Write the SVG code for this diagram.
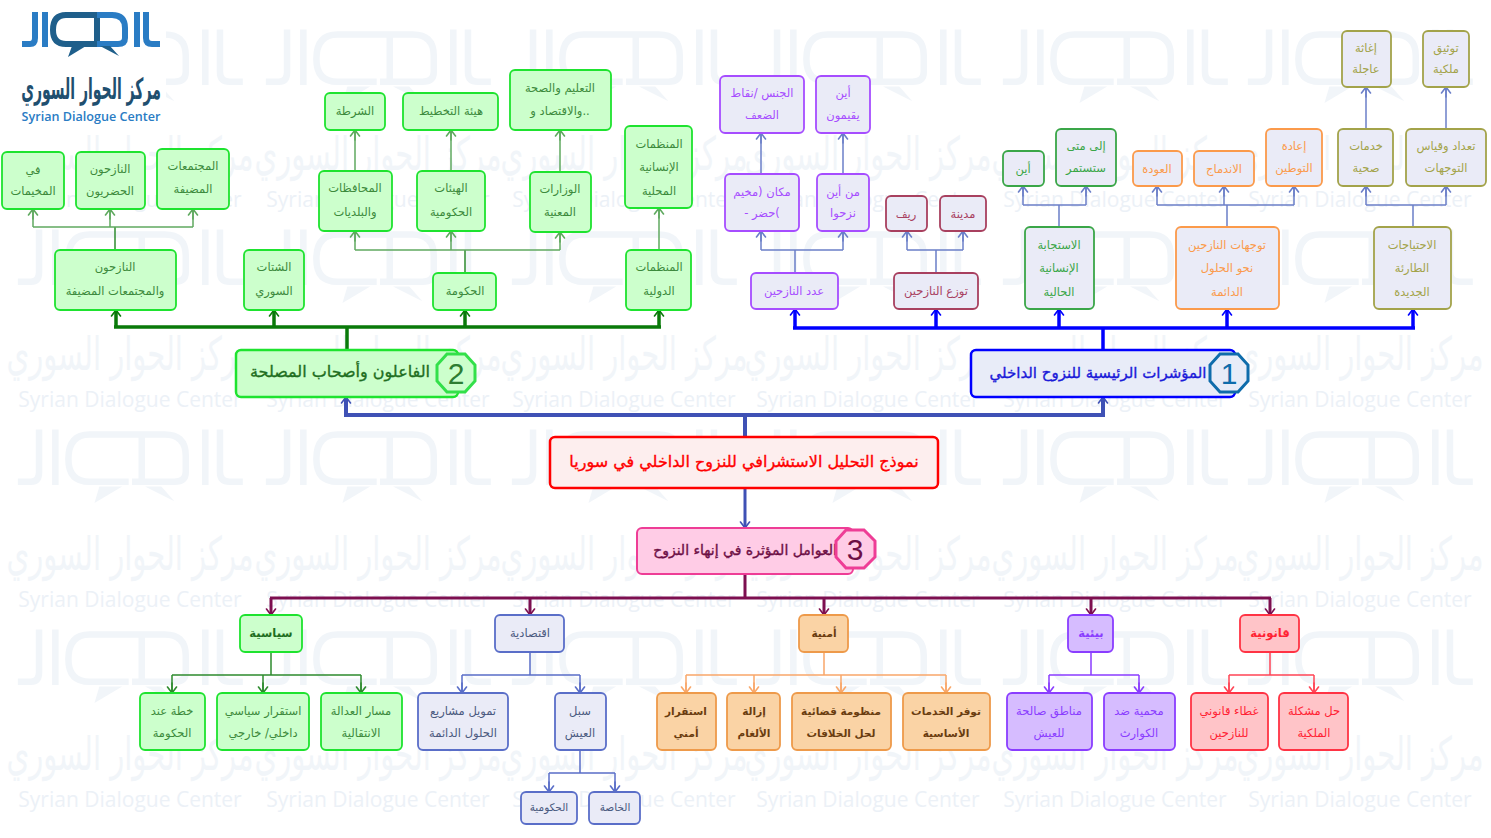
<svg xmlns="http://www.w3.org/2000/svg" width="1491" height="838" viewBox="0 0 1491 838">
<style>
text{font-family:"DejaVu Sans","Noto Sans",sans-serif;text-anchor:middle;font-size:11.5px;direction:rtl}
rect{rx:5px;stroke-width:1.8}
.lat{direction:ltr;font-family:"Open Sans","Liberation Sans",sans-serif}
.g rect{fill:#ccffcc;stroke:#1ee32f}.g text{fill:#3c8a3c}
.p rect{fill:#eaebf7;stroke:#a64dff}.p text{fill:#a64dff}
.m rect{fill:#eaebf7;stroke:#a8405f}.m text{fill:#a8405f}
.h rect{fill:#eaebf7;stroke:#3aa648}.h text{fill:#3aa648}
.o rect{fill:#eaebf7;stroke:#fb9a4b}.o text{fill:#fb9a4b}
.l rect{fill:#eaebf7;stroke:#a3a34a}.l text{fill:#a3a34a}
.e rect{fill:#eaebf7;stroke:#5a6ec8}.e text{fill:#4a5a80}
.a rect{fill:#fad3a5;stroke:#ee9a4a}.a text{fill:#6a3d10;font-weight:bold;font-size:10.5px}
.v rect{fill:#d6bcff;stroke:#8a3dff}.v text{fill:#8a3dff}
.r rect{fill:#ffc4c8;stroke:#ff3344}.r text{fill:#ff2233}
.main text{font-size:15px;stroke-width:.35px}
.num{font-family:"Liberation Sans",sans-serif;direction:ltr;font-size:30px}
.main text.num{font-size:30px;stroke-width:0}
.c{fill:none}
.c1{stroke:#0a7a0a;stroke-width:3.5}.c2{stroke:#0000ff;stroke-width:3.5}.c3{stroke:#3f51b5;stroke-width:4}.c4{stroke:#7d0f50;stroke-width:3}
.c5{stroke:#5fa95f;stroke-width:1.5}.c6{stroke:#6b7fc8;stroke-width:1.5}.c7{stroke:#2e8b2e;stroke-width:1.5}.c8{stroke:#5a6ec8;stroke-width:1.5}.c9{stroke:#f9a76a;stroke-width:1.5}.c10{stroke:#8a3dff;stroke-width:1.5}.c11{stroke:#ff4455;stroke-width:1.5}
.mk{fill:none;stroke-width:1.6;stroke-linecap:round}
.wm{fill:#f1f5f9}.wt{fill:#ecf1f7}
</style>
<defs>
<marker id="a1" markerUnits="userSpaceOnUse" markerWidth="12" markerHeight="12" refX="11" refY="6" orient="auto" viewBox="0 0 12 12"><path d="M5 1.5L11 6L5 10.5M1 6H11" class="mk" stroke="#0a7a0a"/></marker>
<marker id="a2" markerUnits="userSpaceOnUse" markerWidth="12" markerHeight="12" refX="11" refY="6" orient="auto" viewBox="0 0 12 12"><path d="M5 1.5L11 6L5 10.5M1 6H11" class="mk" stroke="#0000ff"/></marker>
<marker id="a3" markerUnits="userSpaceOnUse" markerWidth="12" markerHeight="12" refX="11" refY="6" orient="auto" viewBox="0 0 12 12"><path d="M5 1.5L11 6L5 10.5M1 6H11" class="mk" stroke="#3f51b5"/></marker>
<marker id="a4" markerUnits="userSpaceOnUse" markerWidth="12" markerHeight="12" refX="11" refY="6" orient="auto" viewBox="0 0 12 12"><path d="M5 1.5L11 6L5 10.5M1 6H11" class="mk" stroke="#7d0f50"/></marker>
<marker id="a5" markerUnits="userSpaceOnUse" markerWidth="12" markerHeight="12" refX="11" refY="6" orient="auto" viewBox="0 0 12 12"><path d="M5 1.5L11 6L5 10.5M1 6H11" class="mk" stroke="#5fa95f"/></marker>
<marker id="a6" markerUnits="userSpaceOnUse" markerWidth="12" markerHeight="12" refX="11" refY="6" orient="auto" viewBox="0 0 12 12"><path d="M5 1.5L11 6L5 10.5M1 6H11" class="mk" stroke="#6b7fc8"/></marker>
<marker id="a7" markerUnits="userSpaceOnUse" markerWidth="12" markerHeight="12" refX="11" refY="6" orient="auto" viewBox="0 0 12 12"><path d="M5 1.5L11 6L5 10.5M1 6H11" class="mk" stroke="#2e8b2e"/></marker>
<marker id="a8" markerUnits="userSpaceOnUse" markerWidth="12" markerHeight="12" refX="11" refY="6" orient="auto" viewBox="0 0 12 12"><path d="M5 1.5L11 6L5 10.5M1 6H11" class="mk" stroke="#5a6ec8"/></marker>
<marker id="a9" markerUnits="userSpaceOnUse" markerWidth="12" markerHeight="12" refX="11" refY="6" orient="auto" viewBox="0 0 12 12"><path d="M5 1.5L11 6L5 10.5M1 6H11" class="mk" stroke="#f9a76a"/></marker>
<marker id="a10" markerUnits="userSpaceOnUse" markerWidth="12" markerHeight="12" refX="11" refY="6" orient="auto" viewBox="0 0 12 12"><path d="M5 1.5L11 6L5 10.5M1 6H11" class="mk" stroke="#8a3dff"/></marker>
<marker id="a11" markerUnits="userSpaceOnUse" markerWidth="12" markerHeight="12" refX="11" refY="6" orient="auto" viewBox="0 0 12 12"><path d="M5 1.5L11 6L5 10.5M1 6H11" class="mk" stroke="#ff4455"/></marker>
<g id="mark" fill="none">
<path d="M22 44H30Q35 44 35 38V12M45 12V46M90 44H66Q53 44 53 30Q53 15 66 15H98V44M92 15H112Q125 15 125 28V38Q125 44 118 44H92M137 12V46M146 12V38Q146 44 152 44H160"/>
<path d="M72 47L69 57L86 47ZM100 47L118 56L110 47Z" fill="#f1f5f9" stroke="none"/>
</g>
<g id="tile">
<use href="#mark" transform="translate(-18 10) scale(1.63)" stroke-width="4" stroke="#f1f5f9"/>
<text class="wm" transform="translate(130 170) scale(1 1.6)" style="font-size:29px">مركز الحوار السوري</text>
<text class="wt lat" x="130" y="207" style="font-size:21px">Syrian Dialogue Center</text>
</g>
</defs>
<rect width="1491" height="838" style="fill:#fff;stroke:none;rx:0"/>
<g id="watermark">
<use href="#tile" x="0" y="0"/><use href="#tile" x="248" y="0"/><use href="#tile" x="494" y="0"/><use href="#tile" x="738" y="0"/><use href="#tile" x="985" y="0"/><use href="#tile" x="1230" y="0"/>
<use href="#tile" x="0" y="200"/><use href="#tile" x="248" y="200"/><use href="#tile" x="494" y="200"/><use href="#tile" x="738" y="200"/><use href="#tile" x="985" y="200"/><use href="#tile" x="1230" y="200"/>
<use href="#tile" x="0" y="400"/><use href="#tile" x="248" y="400"/><use href="#tile" x="494" y="400"/><use href="#tile" x="738" y="400"/><use href="#tile" x="985" y="400"/><use href="#tile" x="1230" y="400"/>
<use href="#tile" x="0" y="600"/><use href="#tile" x="248" y="600"/><use href="#tile" x="494" y="600"/><use href="#tile" x="738" y="600"/><use href="#tile" x="985" y="600"/><use href="#tile" x="1230" y="600"/>
</g>
<g id="logo">
<rect x="14" y="6" width="152" height="122" style="fill:#fff;stroke:none"/>
<g fill="none" stroke-width="6">
<path stroke="#2a7cc4" d="M22 44H30Q35 44 35 38V12M45 12V47"/>
<path stroke="#1f5f8b" d="M97 44H66Q53 44 53 30Q53 15 66 15H97V44"/>
<path stroke="#2a7cc4" d="M97 15H112Q125 15 125 28V38Q125 44 118 44H97M137 12V47M146 12V38Q146 44 152 44H160"/>
</g>
<path fill="#1f5f8b" d="M72 46L68 57L86 46ZM100 46L119 56L110 46Z"/>
<text transform="translate(91 99) scale(1 2.1)" style="font-size:14px;font-weight:bold;fill:#1f4f6f">مركز الحوار السوري</text>
<text class="lat" x="91" y="121" style="font-size:12.6px;font-weight:600;fill:#2a7cc4">Syrian Dialogue Center</text>
</g>
<g id="connectors" class="c">
<path class="c3" d="M745 437V415M344 415H1105"/>
<path class="c3" d="M346 415V397" marker-end="url(#a3)"/><path class="c3" d="M1103 415V397" marker-end="url(#a3)"/>
<path style="stroke:#3f51b5;stroke-width:3" d="M745 488V528" marker-end="url(#a3)"/>
<path class="c1" d="M347 350V327M114 327H661"/>
<path class="c1" d="M116 327V310" marker-end="url(#a1)"/><path class="c1" d="M274 327V310" marker-end="url(#a1)"/><path class="c1" d="M465 327V310" marker-end="url(#a1)"/><path class="c1" d="M659 327V310" marker-end="url(#a1)"/>
<path class="c2" d="M1103 350V328M793 328H1415"/>
<path class="c2" d="M795 328V309" marker-end="url(#a2)"/><path class="c2" d="M936 328V309" marker-end="url(#a2)"/><path class="c2" d="M1059 328V309" marker-end="url(#a2)"/><path class="c2" d="M1227 328V309" marker-end="url(#a2)"/><path class="c2" d="M1413 328V309" marker-end="url(#a2)"/>
<path class="c4" d="M745 574V598M270 598H1271"/>
<path class="c4" d="M271 598V615" marker-end="url(#a4)"/><path class="c4" d="M530 598V615" marker-end="url(#a4)"/><path class="c4" d="M824 598V615" marker-end="url(#a4)"/><path class="c4" d="M1091 598V615" marker-end="url(#a4)"/><path class="c4" d="M1270 598V615" marker-end="url(#a4)"/>
<path class="c7" d="M115 250V227"/><path class="c5" d="M33 227H193"/>
<path class="c5" d="M33 227V209" marker-end="url(#a5)"/><path class="c5" d="M110 227V209" marker-end="url(#a5)"/><path class="c5" d="M193 227V209" marker-end="url(#a5)"/>
<path class="c7" d="M465 273V250"/><path class="c5" d="M355 250H560"/>
<path class="c5" d="M355 250V231" marker-end="url(#a5)"/><path class="c5" d="M451 250V231" marker-end="url(#a5)"/><path class="c5" d="M560 250V232" marker-end="url(#a5)"/>
<path class="c5" d="M355 171V130" marker-end="url(#a5)"/><path class="c5" d="M451 171V130" marker-end="url(#a5)"/><path class="c5" d="M560 172V130" marker-end="url(#a5)"/><path class="c5" d="M659 250V208" marker-end="url(#a5)"/>
<path class="c6" d="M795 273V250M761 250H843"/>
<path class="c6" d="M761 250V231" marker-end="url(#a6)"/><path class="c6" d="M843 250V231" marker-end="url(#a6)"/><path class="c6" d="M761 174V133" marker-end="url(#a6)"/><path class="c6" d="M843 174V133" marker-end="url(#a6)"/>
<path class="c6" d="M936 273V250M907 250H963"/><path class="c6" d="M907 250V231" marker-end="url(#a6)"/><path class="c6" d="M963 250V231" marker-end="url(#a6)"/>
<path class="c6" d="M1059 227V205M1023 205H1086"/><path class="c6" d="M1023 205V186" marker-end="url(#a6)"/><path class="c6" d="M1086 205V186" marker-end="url(#a6)"/>
<path class="c6" d="M1227 227V205M1157 205H1294"/><path class="c6" d="M1157 205V186" marker-end="url(#a6)"/><path class="c6" d="M1224 205V186" marker-end="url(#a6)"/><path class="c6" d="M1294 205V186" marker-end="url(#a6)"/>
<path class="c6" d="M1413 227V205M1366 205H1446"/><path class="c6" d="M1366 205V186" marker-end="url(#a6)"/><path class="c6" d="M1446 205V186" marker-end="url(#a6)"/><path class="c6" d="M1366 129V87" marker-end="url(#a6)"/><path class="c6" d="M1446 129V87" marker-end="url(#a6)"/>
<path class="c7" d="M271 652V675M172 675H361"/><path class="c7" d="M172 675V693" marker-end="url(#a7)"/><path class="c7" d="M263 675V693" marker-end="url(#a7)"/><path class="c7" d="M361 675V693" marker-end="url(#a7)"/>
<path class="c8" d="M530 652V675M462 675H580"/><path class="c8" d="M462 675V693" marker-end="url(#a8)"/><path class="c8" d="M580 675V693" marker-end="url(#a8)"/>
<path class="c8" d="M580 750V773M549 773H615"/><path class="c8" d="M549 773V792" marker-end="url(#a8)"/><path class="c8" d="M615 773V792" marker-end="url(#a8)"/>
<path class="c9" d="M824 652V675M686 675H946"/><path class="c9" d="M686 675V693" marker-end="url(#a9)"/><path class="c9" d="M754 675V693" marker-end="url(#a9)"/><path class="c9" d="M841 675V693" marker-end="url(#a9)"/><path class="c9" d="M946 675V693" marker-end="url(#a9)"/>
<path class="c10" d="M1091 652V675M1049 675H1139"/><path class="c10" d="M1049 675V693" marker-end="url(#a10)"/><path class="c10" d="M1139 675V693" marker-end="url(#a10)"/>
<path class="c11" d="M1270 652V675M1229 675H1314"/><path class="c11" d="M1229 675V693" marker-end="url(#a11)"/><path class="c11" d="M1314 675V693" marker-end="url(#a11)"/>
</g>
<g id="nodes">
<g id="n-camps" class="g"><rect x="2" y="152" width="62" height="57"/><text x="33" y="174">في</text><text x="33" y="195">المخيمات</text></g>
<g id="n-urban" class="g"><rect x="76" y="152" width="69" height="57"/><text x="110" y="173">النازحون</text><text x="110" y="195">الحضريون</text></g>
<g id="n-host" class="g"><rect x="157" y="149" width="72" height="60"/><text x="193" y="170">المجتمعات</text><text x="193" y="193">المضيفة</text></g>
<g id="n-police" class="g"><rect x="325" y="93" width="60" height="37"/><text x="355" y="115">الشرطة</text></g>
<g id="n-planning" class="g"><rect x="403" y="93" width="95" height="37"/><text x="451" y="115">هيئة التخطيط</text></g>
<g id="n-govs" class="g"><rect x="319" y="171" width="73" height="60"/><text x="355" y="192">المحافظات</text><text x="355" y="216">والبلديات</text></g>
<g id="n-govbodies" class="g"><rect x="417" y="171" width="68" height="60"/><text x="451" y="192">الهيئات</text><text x="451" y="216">الحكومية</text></g>
<g id="n-idphost" class="g"><rect x="55" y="250" width="121" height="60"/><text x="115" y="271">النازحون</text><text x="115" y="295">والمجتمعات المضيفة</text></g>
<g id="n-diaspora" class="g"><rect x="244" y="250" width="60" height="60"/><text x="274" y="271">الشتات</text><text x="274" y="295">السوري</text></g>
<g id="n-gov" class="g"><rect x="433" y="273" width="63" height="37"/><text x="465" y="295">الحكومة</text></g>
<g id="n-edu" class="g"><rect x="510" y="70" width="101" height="60"/><text x="560" y="92">التعليم والصحة</text><text x="560" y="115">..والاقتصاد و</text></g>
<g id="n-min" class="g"><rect x="530" y="172" width="61" height="60"/><text x="560" y="193">الوزارات</text><text x="560" y="216">المعنية</text></g>
<g id="n-localorg" class="g"><rect x="625" y="126" width="67" height="82"/><text x="659" y="148">المنظمات</text><text x="659" y="171">الإنسانية</text><text x="659" y="195">المحلية</text></g>
<g id="n-intl" class="g"><rect x="626" y="250" width="65" height="60"/><text x="659" y="271">المنظمات</text><text x="659" y="295">الدولية</text></g>
<g id="n-gender" class="p"><rect x="720" y="76" width="84" height="57"/><text x="762" y="97">الجنس /نقاط</text><text x="762" y="119">الضعف</text></g>
<g id="n-where" class="p"><rect x="816" y="76" width="54" height="57"/><text x="843" y="97">أين</text><text x="843" y="119">يقيمون</text></g>
<g id="n-place" class="p"><rect x="725" y="174" width="74" height="57"/><text x="762" y="196">مكان (مخيم</text><text x="762" y="217">)حضر -</text></g>
<g id="n-from" class="p"><rect x="817" y="174" width="52" height="57"/><text x="843" y="196">من أين</text><text x="843" y="217">نزحوا</text></g>
<g id="n-count" class="p"><rect x="751" y="273" width="87" height="36"/><text x="794" y="295">عدد النازحين</text></g>
<g id="n-rural" class="m"><rect x="886" y="196" width="41" height="35"/><text x="906" y="218">ريف</text></g>
<g id="n-city" class="m"><rect x="940" y="196" width="46" height="35"/><text x="963" y="218">مدينة</text></g>
<g id="n-dist" class="m"><rect x="894" y="273" width="84" height="36"/><text x="936" y="295">توزع النازحين</text></g>
<g id="n-ain" class="h"><rect x="1003" y="151" width="41" height="35"/><text x="1023" y="173">أين</text></g>
<g id="n-until" class="h"><rect x="1056" y="129" width="60" height="57"/><text x="1086" y="150">إلى متى</text><text x="1086" y="172">ستستمر</text></g>
<g id="n-resp" class="h"><rect x="1025" y="227" width="69" height="82"/><text x="1059" y="249">الاستجابة</text><text x="1059" y="272">الإنسانية</text><text x="1059" y="296">الحالية</text></g>
<g id="n-return" class="o"><rect x="1133" y="151" width="49" height="35"/><text x="1157" y="173">العودة</text></g>
<g id="n-integ" class="o"><rect x="1194" y="151" width="60" height="35"/><text x="1224" y="173">الاندماج</text></g>
<g id="n-resettle" class="o"><rect x="1266" y="129" width="56" height="57"/><text x="1294" y="150">إعادة</text><text x="1294" y="172">التوطين</text></g>
<g id="n-trends" class="o"><rect x="1176" y="227" width="103" height="82"/><text x="1227" y="249">توجهات النازحين</text><text x="1227" y="272">نحو الحلول</text><text x="1227" y="296">الدائمة</text></g>
<g id="n-relief" class="l"><rect x="1342" y="31" width="49" height="56"/><text x="1366" y="52">إغاثة</text><text x="1366" y="73">عاجلة</text></g>
<g id="n-deed" class="l"><rect x="1423" y="31" width="46" height="56"/><text x="1446" y="52">توثيق</text><text x="1446" y="73">ملكية</text></g>
<g id="n-health" class="l"><rect x="1338" y="129" width="55" height="57"/><text x="1366" y="150">خدمات</text><text x="1366" y="172">صحية</text></g>
<g id="n-census" class="l"><rect x="1406" y="129" width="80" height="57"/><text x="1446" y="150">تعداد وقياس</text><text x="1446" y="172">التوجهات</text></g>
<g id="n-needs" class="l"><rect x="1374" y="227" width="77" height="82"/><text x="1412" y="249">الاحتياجات</text><text x="1412" y="272">الطارئة</text><text x="1412" y="296">الجديدة</text></g>
<g id="n-1" class="main"><rect x="971" y="350" width="264" height="47" style="fill:#e8ecf8;stroke:#0000ff;stroke-width:2.5"/><text x="1098" y="378" style="fill:#1a1ad8;stroke:#1a1ad8">المؤشرات الرئيسية للنزوح الداخلي</text>
<polygon points="1220,354 1238,354 1248,365 1248,381 1238,392 1220,392 1210,381 1210,365" style="fill:#e8ecf8;stroke:#0f6cab;stroke-width:3"/><text class="num" x="1229" y="384" style="fill:#0f6cab">1</text></g>
<g id="n-2" class="main"><rect x="236" y="350" width="222" height="47" style="fill:#ccffcc;stroke:#1ee32f;stroke-width:2.5"/><text x="340" y="377" style="fill:#1f6e1f;stroke:#1f6e1f;font-size:16px">الفاعلون وأصحاب المصلحة</text>
<polygon points="447,354 465,354 475,365 475,381 465,392 447,392 437,381 437,365" style="fill:#ccffcc;stroke:#33e04a;stroke-width:3"/><text class="num" x="456" y="384" style="fill:#2e7d32">2</text></g>
<g id="n-root" class="main"><rect x="550" y="437" width="388" height="51" style="fill:#fdeeee;stroke:#ff0000;stroke-width:2.5"/><text x="744" y="467" style="fill:#ff0000;stroke:#ff0000;font-size:16px">نموذج التحليل الاستشرافي للنزوح الداخلي في سوريا</text></g>
<g id="n-3" class="main"><rect x="637" y="528" width="216" height="46" style="fill:#ffcce6;stroke:#ee3d96;stroke-width:2"/><text x="745" y="555" style="fill:#6d0f45;stroke:#6d0f45;font-size:14px">العوامل المؤثرة في إنهاء النزوح</text>
<polygon points="846,530 864,530 875,541 875,557 864,568 846,568 836,557 836,541" style="fill:#ffcce6;stroke:#ee3d96;stroke-width:3"/><text class="num" x="855" y="560" style="fill:#6d0f45">3</text></g>
<g id="n-pol" class="g"><rect x="240" y="615" width="62" height="37"/><text x="271" y="637" style="font-weight:bold;fill:#1f6e1f">سياسية</text></g>
<g id="n-plan" class="g"><rect x="140" y="693" width="65" height="57"/><text x="172" y="715">خطة عند</text><text x="172" y="737">الحكومة</text></g>
<g id="n-stab" class="g"><rect x="217" y="693" width="92" height="57"/><text x="263" y="715">استقرار سياسي</text><text x="263" y="737">داخلي/ خارجي</text></g>
<g id="n-just" class="g"><rect x="321" y="693" width="81" height="57"/><text x="361" y="715">مسار العدالة</text><text x="361" y="737">الانتقالية</text></g>
<g id="n-eco" class="e"><rect x="495" y="615" width="69" height="37"/><text x="530" y="637">اقتصادية</text></g>
<g id="n-fund" class="e"><rect x="418" y="693" width="90" height="57"/><text x="463" y="715">تمويل مشاريع</text><text x="463" y="737">الحلول الدائمة</text></g>
<g id="n-live" class="e"><rect x="555" y="693" width="51" height="57"/><text x="580" y="715">سبل</text><text x="580" y="737">العيش</text></g>
<g id="n-pub" class="e"><rect x="521" y="792" width="56" height="32"/><text x="549" y="811" style="font-size:10.5px">الحكومية</text></g>
<g id="n-priv" class="e"><rect x="589" y="792" width="51" height="32"/><text x="615" y="811" style="font-size:10.5px">الخاصة</text></g>
<g id="n-sec" class="a"><rect x="799" y="615" width="49" height="37"/><text x="824" y="637">أمنية</text></g>
<g id="n-secst" class="a"><rect x="657" y="693" width="59" height="57"/><text x="686" y="715">استقرار</text><text x="686" y="737">أمني</text></g>
<g id="n-mines" class="a"><rect x="727" y="693" width="53" height="57"/><text x="754" y="715">إزالة</text><text x="754" y="737">الألغام</text></g>
<g id="n-judic" class="a"><rect x="792" y="693" width="99" height="57"/><text x="841" y="715">منظومة قضائية</text><text x="841" y="737">لحل الخلافات</text></g>
<g id="n-serv" class="a"><rect x="903" y="693" width="87" height="57"/><text x="946" y="715">توفر الخدمات</text><text x="946" y="737">الأساسية</text></g>
<g id="n-env" class="v"><rect x="1068" y="615" width="45" height="37"/><text x="1091" y="637" style="font-weight:bold">بيئية</text></g>
<g id="n-live2" class="v"><rect x="1007" y="693" width="85" height="57"/><text x="1049" y="715">مناطق صالحة</text><text x="1049" y="737">للعيش</text></g>
<g id="n-disas" class="v"><rect x="1104" y="693" width="71" height="57"/><text x="1139" y="715">محمية ضد</text><text x="1139" y="737">الكوارث</text></g>
<g id="n-law" class="r"><rect x="1240" y="615" width="59" height="37"/><text x="1270" y="637" style="font-weight:bold">قانونية</text></g>
<g id="n-cover" class="r"><rect x="1191" y="693" width="77" height="57"/><text x="1229" y="715">غطاء قانوني</text><text x="1229" y="737">للنازحين</text></g>
<g id="n-prop" class="r"><rect x="1279" y="693" width="69" height="57"/><text x="1314" y="715">حل مشكلة</text><text x="1314" y="737">الملكية</text></g>
</g>
</svg>
